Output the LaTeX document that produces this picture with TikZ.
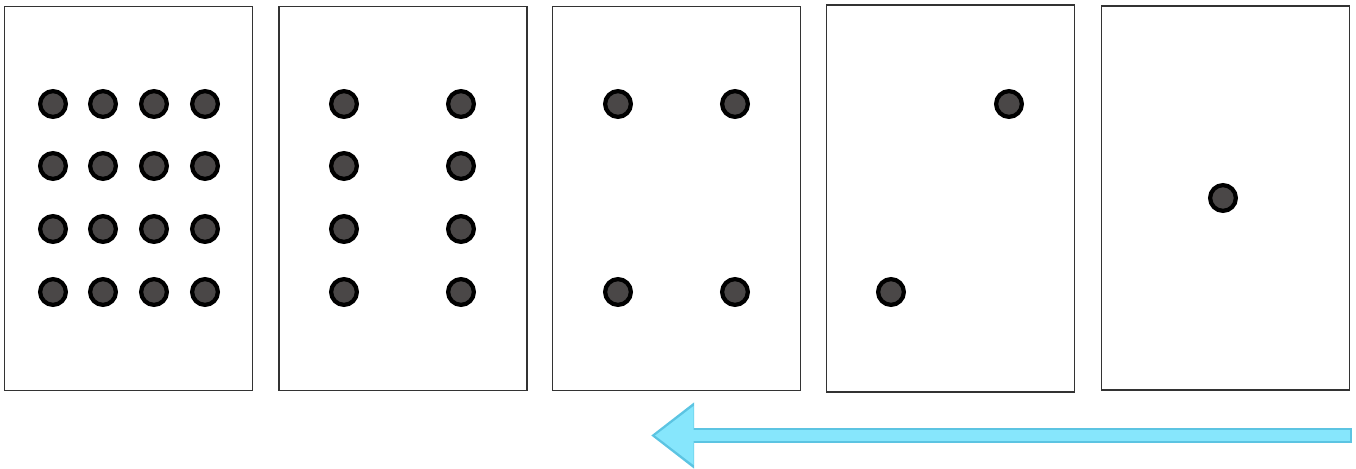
\documentclass[tikz,border=0pt]{standalone}
\usepackage{tikz}
\usetikzlibrary{arrows.meta,shapes}
\definecolor{dotgray}{HTML}{4A4747}
\definecolor{arrowfill}{HTML}{86E6FC}
\definecolor{arrowedge}{HTML}{5CC4E2}
\tikzstyle{card}=[rectangle,draw=black!80,line width=1pt,minimum width=4.96cm,minimum height=7.68cm]
\tikzstyle{pip}=[circle,fill=dotgray,draw=black,line width=2.4pt,minimum size=0.515cm,inner sep=0pt]
\tikzstyle{sweepedge}=[draw=arrowedge,line width=8.2pt,-{Triangle[length=24.5pt,width=36pt]}]
\tikzstyle{sweepfill}=[draw=arrowfill,line width=6pt,-{Triangle[length=22pt,width=32pt]}]

\begin{document}
\begin{tikzpicture}[x=0.02cm,y=-0.02cm]
\useasboundingbox (0,0) rectangle (1356,468);
\node[card] (A) at (128.5,198.5) {};
\node[card] (B) at (403,198.5) {};
\node[card] (C) at (676.5,198.5) {};
\node[card,minimum height=7.74cm] (D) at (950.5,198.5) {};
\node[card] (E) at (1225.5,198) {};
% sixteen
\node[pip] (a11) at (53,104) {};\node[pip] (a12) at (103,104) {};\node[pip] (a13) at (154,104) {};\node[pip] (a14) at (205,104) {};
\node[pip] (a21) at (53,166) {};\node[pip] (a22) at (103,166) {};\node[pip] (a23) at (154,166) {};\node[pip] (a24) at (205,166) {};
\node[pip] (a31) at (53,229) {};\node[pip] (a32) at (103,229) {};\node[pip] (a33) at (154,229) {};\node[pip] (a34) at (205,229) {};
\node[pip] (a41) at (53,292) {};\node[pip] (a42) at (103,292) {};\node[pip] (a43) at (154,292) {};\node[pip] (a44) at (205,292) {};
% eight
\node[pip] (b11) at (344,104) {};\node[pip] (b12) at (461,104) {};
\node[pip] (b21) at (344,166) {};\node[pip] (b22) at (461,166) {};
\node[pip] (b31) at (344,229) {};\node[pip] (b32) at (461,229) {};
\node[pip] (b41) at (344,292) {};\node[pip] (b42) at (461,292) {};
% four
\node[pip] (c11) at (618,104) {};\node[pip] (c12) at (735,104) {};
\node[pip] (c21) at (618,292) {};\node[pip] (c22) at (735,292) {};
% two, one
\node[pip] (d1) at (1009,104) {};\node[pip] (d2) at (891,292) {};
\node[pip] (e1) at (1223,198) {};
\coordinate (tail) at (1352,435.5);
\coordinate (head) at (651,435.5);
\draw[sweepedge](tail)--(head);
\draw[sweepfill]([xshift=-1.2pt]tail)--([xshift=2.2pt]head);
\end{tikzpicture}
\end{document}
